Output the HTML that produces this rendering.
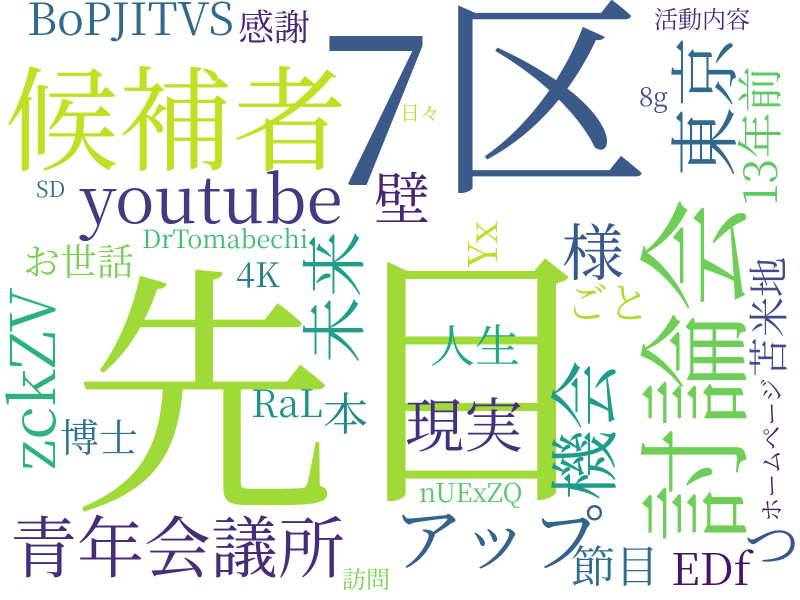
<!DOCTYPE html>
<html><head><meta charset="utf-8"><style>
html,body{margin:0;padding:0;background:#fff;}
svg{display:block;}
text{font-family:"Noto Serif CJK JP","Liberation Serif","Noto Sans CJK JP",serif;}
</style></head><body>
<svg width="800" height="600" viewBox="0 0 800 600">
<rect width="800" height="600" fill="#fff"/>
<text x="318" y="185" font-size="212" fill="#3b5a8a">7</text>
<text x="432" y="176" font-size="218" fill="#3b5a8a">区</text>
<text x="5" y="162" font-size="114" fill="#c2df23">候補者</text>
<text x="27" y="35" font-size="45" fill="#31688e">BoPJITVS</text>
<text x="238" y="40" font-size="36" fill="#482878">感謝</text>
<text x="654" y="28" font-size="24" fill="#472d7b">活動内容</text>
<text x="80" y="223" font-size="66" fill="#443983">youtube</text>
<text x="36" y="197" font-size="22" fill="#2c728e">SD</text>
<text x="142" y="248" font-size="25" fill="#3dbc74">DrTomabechi</text>
<text x="23" y="275" font-size="37" fill="#7ad151">お世話</text>
<text x="236" y="287" font-size="34" fill="#277f8e">4K</text>
<text x="374" y="219" font-size="56" fill="#482475">壁</text>
<text x="72" y="490" font-size="265" fill="#a0da39">先</text>
<text x="333" y="480" font-size="275" fill="#a0da39">目</text>
<text x="430" y="362" font-size="45" fill="#22a884">人生</text>
<text x="405" y="447" font-size="59" fill="#46307e">現実</text>
<text x="419" y="502" font-size="26" fill="#56c667">nUExZQ</text>
<text x="562" y="275" font-size="62" fill="#38598c">様</text>
<text x="566" y="318" font-size="42" fill="#addc30">ごと</text>
<text x="639" y="106" font-size="26" fill="#3b528b">8g</text>
<text x="400" y="120" font-size="20" fill="#b5de2b">日々</text>
<text x="251" y="417" font-size="38" fill="#21918c">RaL</text>
<text x="323" y="430" font-size="45" fill="#23898e">本</text>
<text x="60" y="452" font-size="39" fill="#2c728e">博士</text>
<text x="10" y="572" font-size="67" fill="#472c7a">青年会議所</text>
<text x="342" y="588" font-size="24" fill="#7ad151">訪問</text>
<text x="392" y="565" font-size="72" fill="#33638d">アップ</text>
<text x="571" y="582" font-size="44" fill="#2f6c8e">節目</text>
<text x="671" y="585" font-size="44" fill="#471365">EDf</text>
<text x="744" y="565" font-size="56" fill="#38598c">つ</text>
<text transform="translate(358,297) rotate(-90)" text-anchor="middle" font-size="66" fill="#1f9e89">未来</text>
<text transform="translate(55,379) rotate(-90)" text-anchor="middle" font-size="62" fill="#2db27d">zckZV</text>
<text transform="translate(610,430) rotate(-90)" text-anchor="middle" font-size="70" fill="#1e9b8a">機会</text>
<text transform="translate(737,370) rotate(-90)" text-anchor="middle" font-size="115" fill="#6ece58">討論会</text>
<text transform="translate(730,107) rotate(-90)" text-anchor="middle" font-size="70" fill="#31688e">東京</text>
<text transform="translate(777,136) rotate(-90)" text-anchor="middle" font-size="46" fill="#5ec962">13年前</text>
<text transform="translate(497,245) rotate(-90)" text-anchor="middle" font-size="40" fill="#b8de29">Yx</text>
<text transform="translate(783,317) rotate(-90)" text-anchor="middle" font-size="40" fill="#3e4c8a">苫米地</text>
<text transform="translate(780,450) rotate(-90)" text-anchor="middle" font-size="24" fill="#481f70">ホームページ</text>
</svg>
</body></html>
